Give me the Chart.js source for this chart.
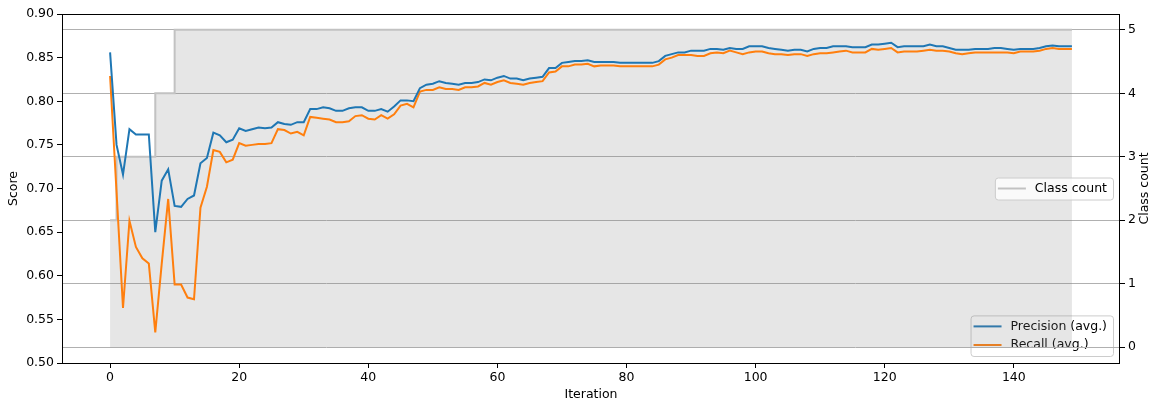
<!DOCTYPE html>
<html>
<head>
<meta charset="utf-8">
<script src="https://cdn.jsdelivr.net/npm/chart.js"></script>
<style>
  html, body { margin: 0; padding: 0; background: #fff; }
  #wrap { width: 1151px; height: 402px; position: relative; }
</style>
</head>
<body>
<div id="wrap"><canvas id="scoreChart"></canvas></div>
<script>
// iteration index (x categories)
const iterations = Array.from({ length: 150 }, (_, i) => i);

const precision = [
  0.856, 0.750, 0.716, 0.768, 0.762, 0.762, 0.762, 0.650, 0.709, 0.722,
  0.680, 0.679, 0.688, 0.692, 0.729, 0.735, 0.764, 0.761, 0.753, 0.756,
  0.769, 0.766, 0.768, 0.770, 0.769, 0.770, 0.776, 0.774, 0.773, 0.776,
  0.776, 0.791, 0.791, 0.793, 0.792, 0.789, 0.789, 0.792, 0.793, 0.793,
  0.789, 0.789, 0.791, 0.788, 0.794, 0.801, 0.801, 0.800, 0.815, 0.819,
  0.820, 0.823, 0.821, 0.820, 0.819, 0.821, 0.821, 0.822, 0.825, 0.824,
  0.827, 0.829, 0.826, 0.826, 0.824, 0.826, 0.827, 0.828, 0.838, 0.838,
  0.844, 0.845, 0.846, 0.846, 0.847, 0.845, 0.845, 0.845, 0.845, 0.844,
  0.844, 0.844, 0.844, 0.844, 0.844, 0.846, 0.852, 0.854, 0.856, 0.856,
  0.858, 0.858, 0.858, 0.860, 0.860, 0.859, 0.861, 0.860, 0.860, 0.863,
  0.863, 0.863, 0.861, 0.860, 0.859, 0.858, 0.859, 0.859, 0.857, 0.860,
  0.861, 0.861, 0.863, 0.863, 0.863, 0.862, 0.862, 0.862, 0.865, 0.865,
  0.866, 0.867, 0.862, 0.863, 0.863, 0.863, 0.863, 0.865, 0.863, 0.863,
  0.861, 0.859, 0.859, 0.859, 0.860, 0.860, 0.860, 0.861, 0.861, 0.860,
  0.859, 0.860, 0.860, 0.860, 0.861, 0.863, 0.864, 0.863, 0.863, 0.863
];

const recall = [
  0.829, 0.696, 0.563, 0.663, 0.633, 0.620, 0.614, 0.535, 0.614, 0.688,
  0.590, 0.590, 0.575, 0.573, 0.678, 0.702, 0.744, 0.742, 0.730, 0.733,
  0.752, 0.749, 0.750, 0.751, 0.751, 0.752, 0.768, 0.767, 0.763, 0.765,
  0.761, 0.782, 0.781, 0.780, 0.779, 0.776, 0.776, 0.777, 0.783, 0.784,
  0.780, 0.779, 0.784, 0.780, 0.785, 0.795, 0.797, 0.793, 0.811, 0.813,
  0.813, 0.816, 0.814, 0.814, 0.813, 0.816, 0.816, 0.817, 0.821, 0.819,
  0.822, 0.824, 0.821, 0.820, 0.819, 0.821, 0.822, 0.823, 0.833, 0.834,
  0.840, 0.840, 0.842, 0.842, 0.843, 0.840, 0.841, 0.841, 0.841, 0.840,
  0.840, 0.840, 0.840, 0.840, 0.840, 0.842, 0.848, 0.850, 0.853, 0.853,
  0.853, 0.852, 0.852, 0.855, 0.856, 0.855, 0.858, 0.856, 0.854, 0.856,
  0.857, 0.857, 0.855, 0.854, 0.854, 0.853, 0.854, 0.854, 0.852, 0.854,
  0.855, 0.855, 0.856, 0.857, 0.858, 0.856, 0.856, 0.856, 0.860, 0.859,
  0.860, 0.861, 0.856, 0.857, 0.857, 0.857, 0.858, 0.859, 0.858, 0.858,
  0.857, 0.855, 0.854, 0.855, 0.856, 0.856, 0.856, 0.856, 0.856, 0.856,
  0.855, 0.857, 0.857, 0.857, 0.858, 0.860, 0.861, 0.860, 0.860, 0.860
];

// class count only changes a few times: iteration where it changes -> new count
const classCountIter = [0, 1, 7, 10, 149];
const classCount = [2, 3, 4, 5, 5];

const FONT = { family: 'DejaVu Sans', size: 12.5 };

function roundRect(ctx, x, y, w, h, r) {
    ctx.beginPath();
    ctx.moveTo(x + r, y);
    ctx.lineTo(x + w - r, y);
    ctx.quadraticCurveTo(x + w, y, x + w, y + r);
    ctx.lineTo(x + w, y + h - r);
    ctx.quadraticCurveTo(x + w, y + h, x + w - r, y + h);
    ctx.lineTo(x + r, y + h);
    ctx.quadraticCurveTo(x, y + h, x, y + h - r);
    ctx.lineTo(x, y + r);
    ctx.quadraticCurveTo(x, y, x + r, y);
    ctx.closePath();
}

// matplotlib-like legend box, anchored by its right edge and bottom/center
function drawLegend(ctx, datasets, right, anchorY, anchor) {
    ctx.save();
    ctx.font = FONT.size + 'px ' + FONT.family;
    const textW = Math.max(...datasets.map(d => ctx.measureText(d.label).width));
    const w = 40 + textW + 6;
    const rowH = 18.6;
    const h = 22 + rowH * (datasets.length - 1);
    const x = right - w;
    const y = anchor === 'bottom' ? anchorY - h : anchorY - h / 2;
    roundRect(ctx, x + 0.5, y + 0.5, w, h, 3);
    ctx.fillStyle = 'rgba(255,255,255,0.8)';
    ctx.fill();
    ctx.strokeStyle = '#cccccc';
    ctx.lineWidth = 1;
    ctx.stroke();
    datasets.forEach((d, i) => {
        const cy = y + 11 + i * rowH;
        ctx.beginPath();
        ctx.moveTo(x + 3, cy);
        ctx.lineTo(x + 31, cy);
        ctx.strokeStyle = d.borderColor;
        ctx.lineWidth = 2;
        ctx.stroke();
        ctx.fillStyle = '#000';
        ctx.textBaseline = 'middle';
        ctx.textAlign = 'left';
        ctx.fillText(d.label, x + 40, cy);
    });
    ctx.restore();
}

const legendsPlugin = {
    id: 'mplLegends',
    beforeDraw(chart) {
        // score legend sits under the twin axis (grid + class fill draw over it)
        const a = chart.chartArea;
        drawLegend(chart.ctx, chart.data.datasets.slice(0, 2), a.right - 7, a.bottom - 7, 'bottom');
    },
    afterDraw(chart) {
        const a = chart.chartArea;
        const ctx = chart.ctx;
        drawLegend(ctx, [chart.data.datasets[2]], a.right - 7, (a.top + a.bottom) / 2, 'center');

        // frame
        ctx.save();
        ctx.strokeStyle = '#000';
        ctx.lineWidth = 1;
        ctx.strokeRect(Math.round(a.left) + 0.5, Math.round(a.top) + 0.5,
            Math.round(a.right - a.left) - 1, Math.round(a.bottom - a.top));
        // right axis title, reading bottom to top like matplotlib
        ctx.font = FONT.size + 'px ' + FONT.family;
        ctx.fillStyle = '#000';
        ctx.translate(chart.width - 6, (a.top + a.bottom) / 2);
        ctx.rotate(-Math.PI / 2);
        ctx.textAlign = 'center';
        ctx.textBaseline = 'middle';
        ctx.fillText('Class count', 0, 0);
        ctx.restore();
    }
};

const ctx = document.getElementById('scoreChart').getContext('2d');

const chart = new Chart(ctx, {
    type: 'line',
    data: {
        labels: iterations,
        datasets: [
            {
                label: 'Precision (avg.)',
                data: precision,
                yAxisID: 'y',
                borderColor: '#1f77b4',
                borderWidth: 2,
                pointRadius: 0,
                fill: false,
                tension: 0,
                order: 0
            },
            {
                label: 'Recall (avg.)',
                data: recall,
                yAxisID: 'y',
                borderColor: '#ff7f0e',
                borderWidth: 2,
                pointRadius: 0,
                fill: false,
                tension: 0,
                order: 0
            },
            {
                label: 'Class count',
                data: classCountIter.map((it, i) => ({ x: it, y: classCount[i] })),
                yAxisID: 'y1',
                stepped: 'before',
                borderColor: '#c2c2c2',
                backgroundColor: 'rgba(128,128,128,0.2)',
                borderWidth: 2,
                pointRadius: 0,
                fill: 'origin',
                order: 1
            }
        ]
    },
    options: {
        responsive: true,
        maintainAspectRatio: false,
        animation: false,
        layout: { padding: { top: 14, left: 0, right: 0, bottom: 0 } },
        plugins: {
            legend: { display: false },
            tooltip: { enabled: false }
        },
        font: FONT,
        scales: {
            x: {
                type: 'linear',
                min: -7.45,
                max: 156.45,
                border: { display: false },
                grid: { drawOnChartArea: false, tickLength: 5, tickColor: '#000', tickWidth: 1 },
                ticks: { stepSize: 20, includeBounds: false, color: '#000', font: FONT, padding: 2, maxRotation: 0 },
                title: { display: true, text: 'Iteration', color: '#000', font: FONT, padding: { top: 0, bottom: 0 } },
                afterFit: s => { s.height = 39; }
            },
            y: {
                position: 'left',
                min: 0.5,
                max: 0.9,
                border: { display: false },
                grid: { drawOnChartArea: false, tickLength: 5, tickColor: '#000', tickWidth: 1 },
                ticks: { stepSize: 0.05, color: '#000', font: FONT, padding: 3, callback: v => v.toFixed(2) },
                title: { display: true, text: 'Score', color: '#000', font: FONT, padding: { top: 6, bottom: 0 } },
                afterFit: s => { s.width = 62; }
            },
            y1: {
                position: 'right',
                min: -0.25,
                max: 5.25,
                border: { display: false },
                grid: { drawOnChartArea: true, color: '#b0b0b0', lineWidth: 1, tickLength: 5, tickColor: '#000', tickWidth: 1 },
                ticks: { stepSize: 1, includeBounds: false, color: '#000', font: FONT, padding: 3 },
                afterFit: s => { s.width = 31; }
            }
        }
    },
    plugins: [legendsPlugin]
});
</script>
</body>
</html>
